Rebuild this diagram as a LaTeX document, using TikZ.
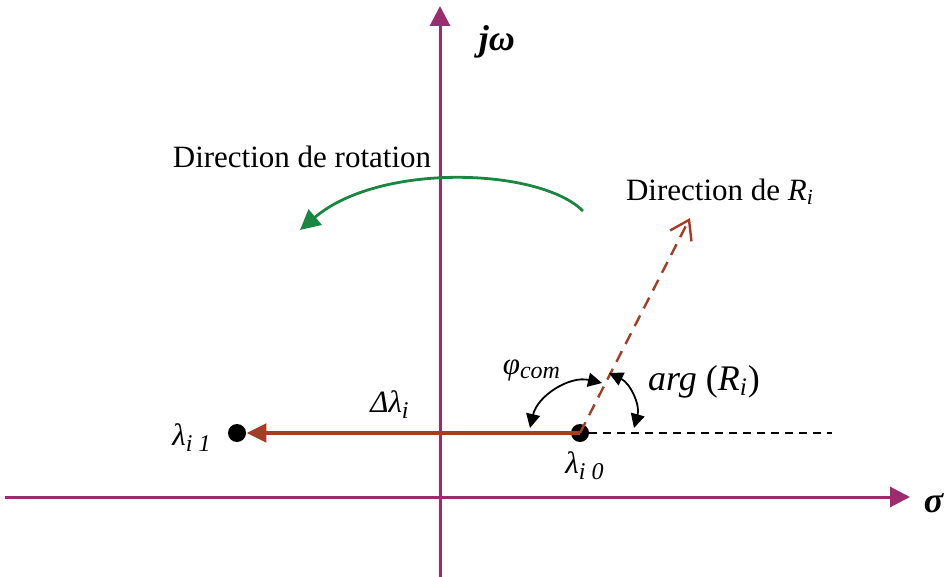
\documentclass[tikz,border=0pt]{standalone}
\usepackage{fontspec}
\setmainfont{Liberation Serif}
\usetikzlibrary{arrows.meta}
\definecolor{axiscol}{RGB}{155,45,110}
\definecolor{brn}{RGB}{165,60,35}
\definecolor{grn}{RGB}{25,135,65}
\begin{document}
\begin{tikzpicture}[x=0.5pt,y=-0.5pt,
  lbl/.style={font=\fontsize{15.5}{18}\selectfont, inner sep=0pt},
  biglbl/.style={font=\fontsize{18}{21}\selectfont, inner sep=0pt},
  axisline/.style={axiscol, line width=1.5pt, -{Triangle[length=10pt,width=10pt]}},
  dot/.style={circle, fill=black, minimum size=9pt, inner sep=0pt},
  anglearc/.style={black, line width=0.9pt, {Triangle[length=7pt,width=7pt]}-{Triangle[length=7pt,width=7pt]}}]
\useasboundingbox (0,0) rectangle (947,577);
% axes
\coordinate (xs) at (5,497);
\coordinate (xe) at (910,497);
\coordinate (ys) at (440,577);
\coordinate (ye) at (440,6);
\draw[axisline] (xs) -- (xe);
\draw[axisline] (ys) -- (ye);
\node[biglbl] (jw) at (497,42) {\textbf{\textit{jω}}};
\node[biglbl] (sig) at (934,503) {\textbf{\textit{σ}}};
% points
\node[dot] (l1) at (237,433) {};
\node[dot] (l0) at (580,433) {};
\node[lbl] (l1lab) at (192,438) {\textit{λ\textsubscript{\large i 1}}};
\node[lbl] (l0lab) at (585,466) {\textit{λ\textsubscript{\large i 0}}};
% brown arrow
\draw[brn, line width=2.4pt, -{Triangle[length=10pt,width=9pt]}] (l0.center) -- (l1.east);
\node[lbl] (dl) at (390,405) {\textit{Δλ\textsubscript{\large i}}};
% dashed reference
\coordinate (dend) at (832,433);
\draw[black, line width=0.75pt, dash pattern=on 4pt off 3pt] (l0.east) -- (dend);
% direction of R_i
\coordinate (rtip) at (690,218);
\draw[brn, line width=1.2pt, dash pattern=on 6pt off 4pt, -{Straight Barb[length=9pt,width=12pt,line width=1.2pt]}] (l0.center) -- (rtip);
\node[lbl] (rlab) at (720,192) {Direction de \textit{R}\textsubscript{\textit{i}}};
% rotation
\coordinate (gs) at (583,211);
\coordinate (ge) at (300,230);
\draw[grn, line width=1.4pt, -{Triangle[length=10pt,width=10pt]}] (gs) .. controls (540,168) and (380,162) .. (ge);
\node[lbl] (rot) at (302,157) {Direction de rotation};
% angles
\coordinate (pa) at (530,428);
\coordinate (pb) at (602,383);
\draw[anglearc] (pa) to[bend left=45] (pb);
\node[lbl] (phi) at (532,370) {\textit{φ\textsubscript{\large com}}};
\coordinate (aa) at (609,373);
\coordinate (ab) at (634,428);
\draw[anglearc] (aa) to[bend left=40] (ab);
\node[biglbl] (arg) at (704,382) {\textit{arg} (\textit{R\textsubscript{i}})};
\end{tikzpicture}
\end{document}
